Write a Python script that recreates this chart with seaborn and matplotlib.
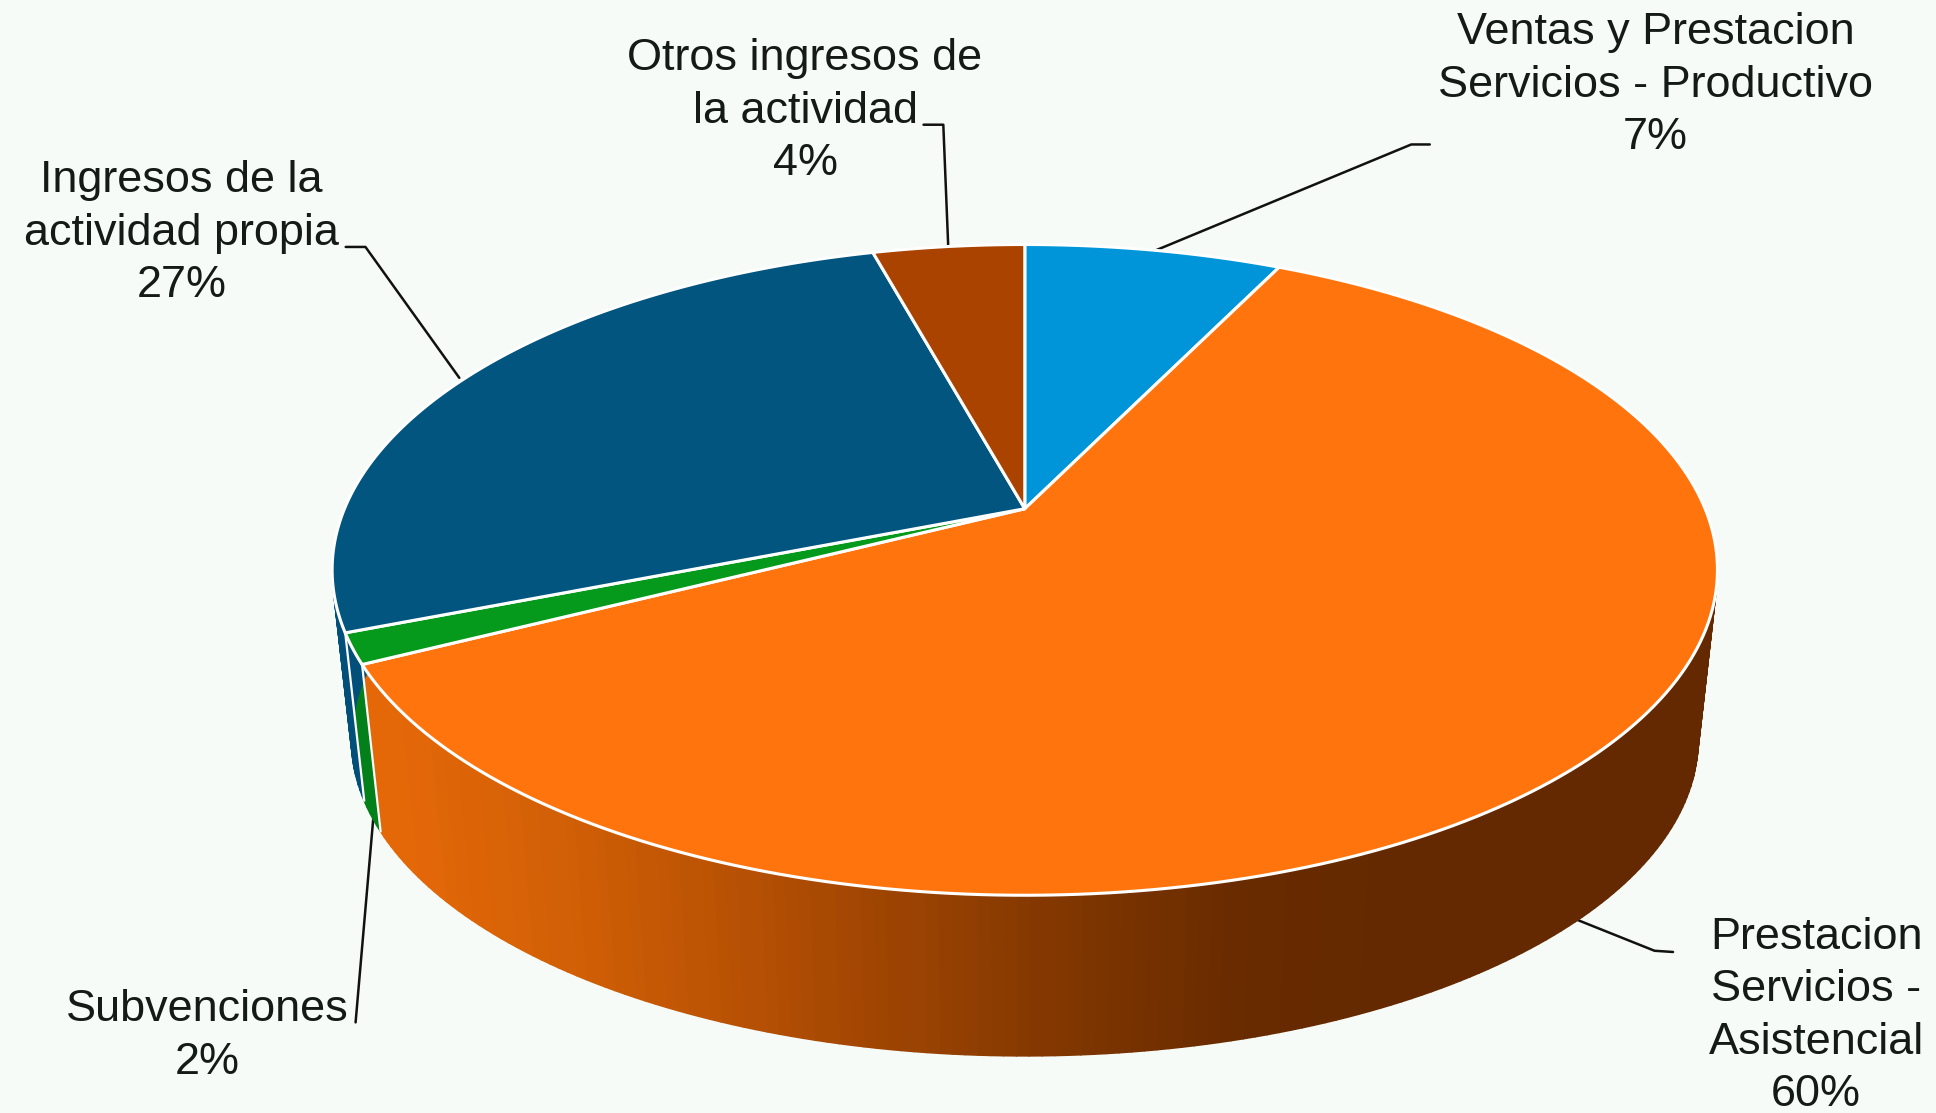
import numpy as np
import matplotlib
matplotlib.use("Agg")
import matplotlib.pyplot as plt
import seaborn as sns
from matplotlib.collections import PolyCollection

categories = ["Ventas y Prestacion\nServicios - Productivo",
              "Prestacion\nServicios -\nAsistencial",
              "Subvenciones",
              "Ingresos de la\nactividad propia",
              "Otros ingresos de\nla actividad"]
shares = [7.2, 60.3, 1.5, 26.75, 4.25]
top_colors = ["#0095d9", "#ff740d", "#069a1c", "#02557f", "#ab4300"]
rim_colors = ["#005f8a", None, "#04801a", "#02507a", "#6b2a00"]
rim_ramp = ["#e46808", "#d15f06", "#b85104", "#9b4302", "#7f3600", "#692b00", "#642900"]

BG = "#f6fbf7"
W, H = 1568.0, 901.4

sns.set_theme(style="white")
plt.rcParams["font.family"] = ["Liberation Sans", "DejaVu Sans"]

fig = plt.figure(figsize=(19.36, 11.13), dpi=100, facecolor=BG)
ax = fig.add_axes([0, 0, 1, 1])
ax.set_xlim(0, W)
ax.set_ylim(H, 0)
ax.axis("off")

# perspective disc -> picture mapping
APEX_X, APEX_Y = 830.0, 412.0
A, C, K = 551.0, 254.2, 0.188
SCALE, DROP = 0.972, 138.8


def project(theta, r=1.0):
    u, v = r * np.sin(theta), r * np.cos(theta)
    w = 1 + K * v
    return APEX_X + A * u / w, APEX_Y - C * v / w


def project_bottom(theta):
    x, y = project(theta)
    return APEX_X + (x - APEX_X) * SCALE, APEX_Y + DROP + (y - APEX_Y) * SCALE


edges = np.cumsum([0.0] + shares) / 100.0 * 2 * np.pi

# rim: painted first, the top disc hides its back half
ramp = sns.blend_palette(rim_ramp, 70)
strips, strip_cols = [], []
for i in range(len(shares)):
    th = np.linspace(edges[i], edges[i + 1], max(4, int(shares[i] * 4)))
    for a, b in zip(th[:-1], th[1:]):
        xa, ya = project(a)
        xb, yb = project(b)
        xc, yc = project_bottom(b)
        xd, yd = project_bottom(a)
        strips.append([(xa, ya), (xb, yb), (xc, yc), (xd, yd)])
        if rim_colors[i] is None:
            t = np.clip((min(xa, xb) - 310) / (1130 - 310), 0, 1)
            strip_cols.append(ramp[int(t * (len(ramp) - 1))])
        else:
            strip_cols.append(rim_colors[i])
ax.add_collection(PolyCollection(strips, facecolors=strip_cols, edgecolors=strip_cols, linewidths=1.2, zorder=1))

# white seams on the rim at slice boundaries
for e in (edges[2], edges[3]):
    x0, y0 = project(e)
    x1, y1 = project_bottom(e)
    ax.plot([x0, x1], [y0, y1], color="white", lw=1.6, zorder=1.5)

# top disc
for i in range(len(shares)):
    th = np.linspace(edges[i], edges[i + 1], 200)
    xs, ys = project(th)
    ax.fill(np.r_[APEX_X, xs], np.r_[APEX_Y, ys], facecolor=top_colors[i],
            edgecolor="white", lw=2.2, joinstyle="round", zorder=2)

# leader lines
leaders = [
    ([1158, 1143, 933], [117, 117, 204]),
    ([1355, 1340, 1270], [771, 770, 742]),
    ([288, 303], [828, 655]),
    ([280, 296, 372], [200, 200, 306]),
    ([748, 764, 768], [101, 101, 200]),
]
for lx, ly in leaders:
    ax.plot(lx, ly, color="#111111", lw=1.8, zorder=0.5, solid_joinstyle="round")

# labels
label_xy = [(1341, 69), (1471, 823), (168, 839), (147, 189), (652, 90)]
for name, share, (tx, ty) in zip(categories, shares, label_xy):
    ax.text(tx, ty, f"{name}\n{share:.0f}%", ha="center", va="center", fontsize=32.4,
            linespacing=1.36, color="#141a16", zorder=3)

fig.savefig("out.png", dpi=100, facecolor=BG)
